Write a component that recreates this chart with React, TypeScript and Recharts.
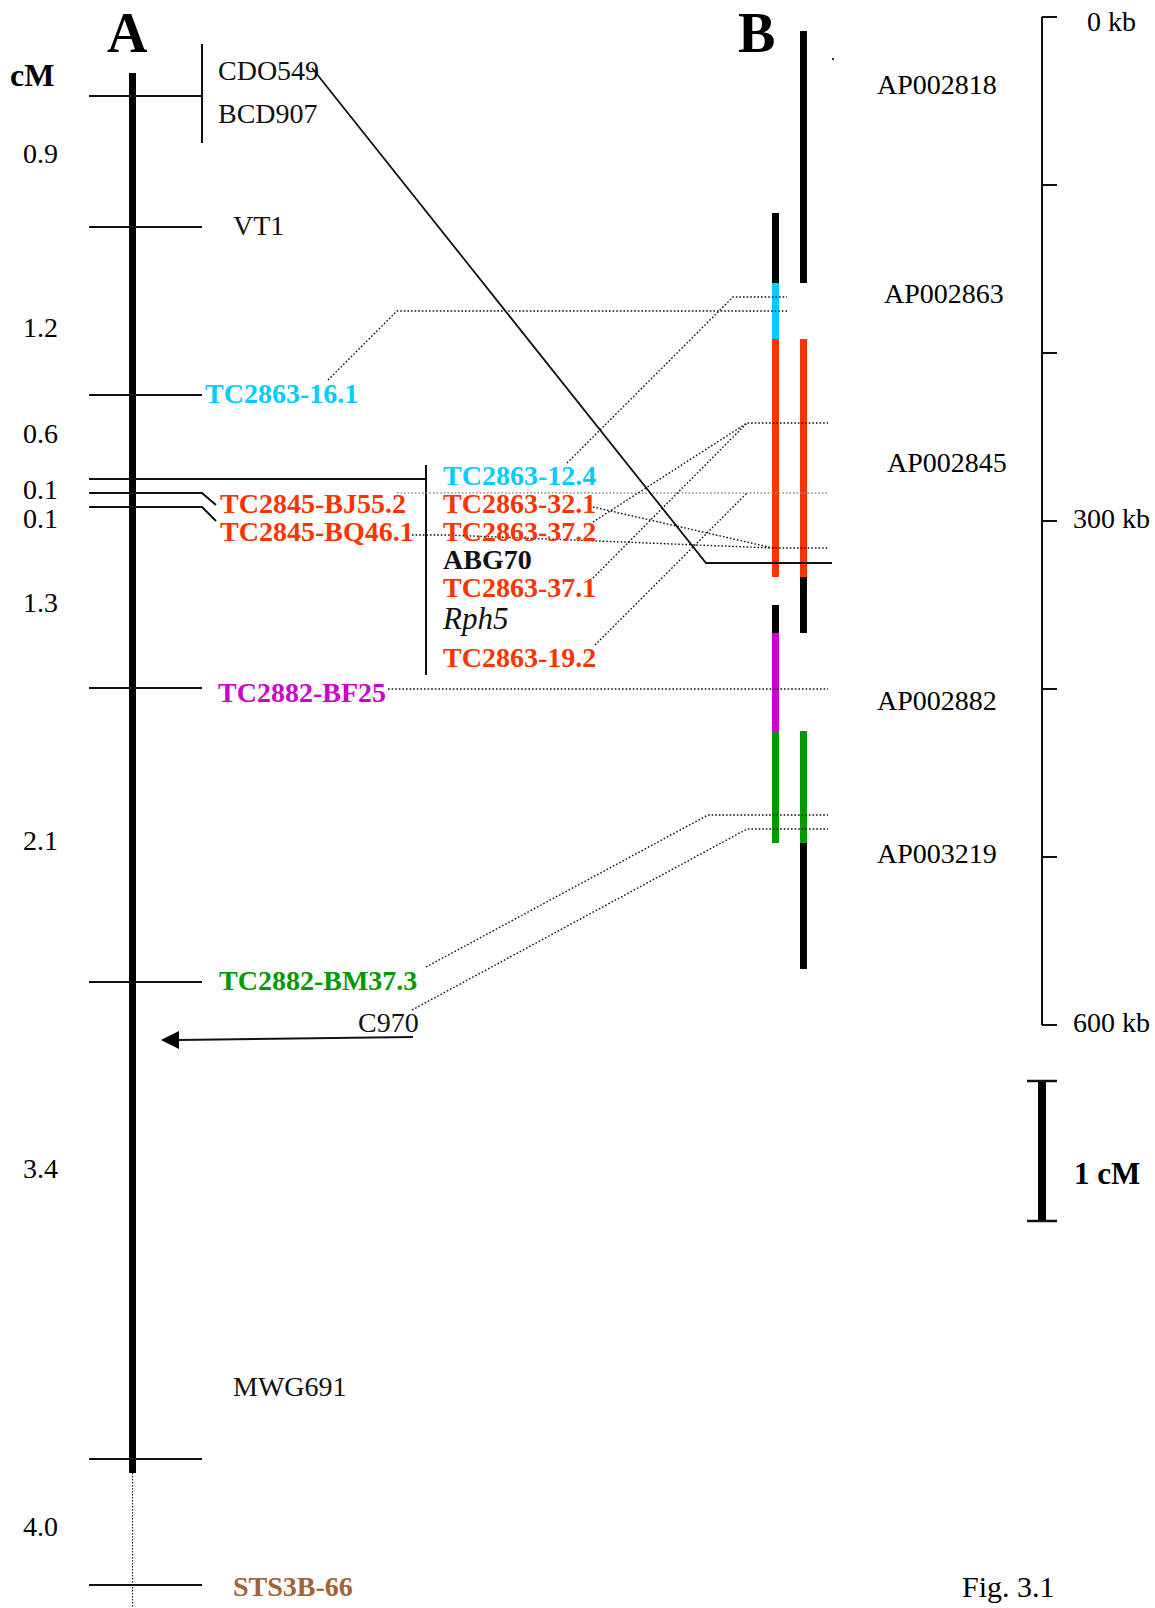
import React from "react";
import { ComposedChart, XAxis, YAxis, Line, Scatter } from "recharts";

const WIDTH = 1155;
const HEIGHT = 1608;
const SERIF = "'Liberation Serif', 'Times New Roman', Times, serif";
const CYAN = "#00CCFF";
const RED = "#FF3300";
const MAGENTA = "#CC00CC";
const GREEN = "#009900";
const BROWN = "#A0643A";
const INK = "#111111";
const GREY = "#8c8c8c";
const BASE_SIZE = 28;

type Pt = [number, number];

// ---------- Map A : genetic linkage map (positions in figure units) ----------
const chromosomeA = { x: 132.5, top: 73, bottom: 1473, end: 1608 };
const markerTicksA = [96, 227, 395, 688, 982, 1459, 1585];
const tickSpanA: Pt = [89, 202];

const cmIntervals = [
  { text: "0.9", y: 163 },
  { text: "1.2", y: 337 },
  { text: "0.6", y: 443 },
  { text: "0.1", y: 499 },
  { text: "0.1", y: 528 },
  { text: "1.3", y: 612 },
  { text: "2.1", y: 850 },
  { text: "3.4", y: 1178 },
  { text: "4.0", y: 1536 },
];

const markerLabelsA = [
  { text: "CDO549", x: 218, y: 80, color: INK, bold: false },
  { text: "BCD907", x: 218, y: 123, color: INK, bold: false },
  { text: "VT1", x: 233, y: 235, color: INK, bold: false },
  { text: "TC2863-16.1", x: 205, y: 403, color: CYAN, bold: true },
  { text: "TC2845-BJ55.2", x: 220, y: 513, color: RED, bold: true },
  { text: "TC2845-BQ46.1", x: 220, y: 541, color: RED, bold: true },
  { text: "TC2882-BF25", x: 218, y: 702, color: MAGENTA, bold: true },
  { text: "TC2882-BM37.3", x: 219, y: 990, color: GREEN, bold: true },
  { text: "C970", x: 358, y: 1032, color: INK, bold: false },
  { text: "MWG691", x: 233, y: 1396, color: INK, bold: false },
  { text: "STS3B-66", x: 233, y: 1596, color: BROWN, bold: true },
];

const clusterLabels = [
  { text: "TC2863-12.4", y: 485, color: CYAN, bold: true, italic: false, size: BASE_SIZE },
  { text: "TC2863-32.1", y: 513, color: RED, bold: true, italic: false, size: BASE_SIZE },
  { text: "TC2863-37.2", y: 541, color: RED, bold: true, italic: false, size: BASE_SIZE },
  { text: "ABG70", y: 569, color: INK, bold: true, italic: false, size: BASE_SIZE },
  { text: "TC2863-37.1", y: 597, color: RED, bold: true, italic: false, size: BASE_SIZE },
  { text: "Rph5", y: 629, color: INK, bold: false, italic: true, size: 31 },
  { text: "TC2863-19.2", y: 667, color: RED, bold: true, italic: false, size: BASE_SIZE },
];
const clusterLabelX = 443;

const solidLinesA: Pt[][] = [
  [[202, 44], [202, 143]],
  [[89, 479], [426, 479]],
  [[426, 465], [426, 675]],
  [[89, 493], [202, 493], [216, 505]],
  [[89, 507], [202, 507], [216, 521]],
];

// ---------- Map B : physical contig (BAC/PAC clones) ----------
const contigColumns = { left: 775.5, right: 803.5 };
const contigSegments = [
  { col: "left", from: 213, to: 283, color: "#000000" },
  { col: "left", from: 283, to: 339, color: CYAN },
  { col: "left", from: 339, to: 577, color: RED },
  { col: "left", from: 605, to: 633, color: "#000000" },
  { col: "left", from: 633, to: 731, color: MAGENTA },
  { col: "left", from: 731, to: 843, color: GREEN },
  { col: "right", from: 31, to: 283, color: "#000000" },
  { col: "right", from: 339, to: 577, color: RED },
  { col: "right", from: 577, to: 633, color: "#000000" },
  { col: "right", from: 731, to: 843, color: GREEN },
  { col: "right", from: 843, to: 969, color: "#000000" },
];

const cloneLabels = [
  { text: "AP002818", x: 877, y: 94 },
  { text: "AP002863", x: 884, y: 303 },
  { text: "AP002845", x: 887, y: 472 },
  { text: "AP002882", x: 877, y: 710 },
  { text: "AP003219", x: 877, y: 863 },
];

// kb scale
const kbAxisX = 1042;
const kbTickPositions = [17, 185, 353, 521, 689, 857, 1025];
const kbLabels = [
  { text: "0 kb", x: 1087, y: 31 },
  { text: "300 kb", x: 1073, y: 528 },
  { text: "600 kb", x: 1073, y: 1032 },
];

// 1 cM bar
const cmBar = { x: 1042, top: 1081, bottom: 1221, capL: 1027, capR: 1057 };

// ---------- Links between map A and map B ----------
const dottedLinks: { pts: Pt[]; color: string }[] = [
  { pts: [[328, 380], [397, 311], [787, 311]], color: INK },
  { pts: [[567, 463], [733, 297], [787, 297]], color: INK },
  { pts: [[397, 493], [828, 493]], color: GREY },
  { pts: [[412, 535], [447, 535], [773, 548], [828, 548]], color: INK },
  { pts: [[593, 507], [773, 548]], color: INK },
  { pts: [[593, 522], [747, 423], [828, 423]], color: INK },
  { pts: [[593, 578], [747, 423]], color: INK },
  { pts: [[595, 645], [747, 493]], color: INK },
  { pts: [[388, 689], [828, 689]], color: INK },
  { pts: [[426, 967], [708, 815], [828, 815]], color: INK },
  { pts: [[412, 1010], [747, 829], [828, 829]], color: INK },
];
const cdoLink: Pt[] = [[312, 68], [706, 563], [832, 563]];
const arrowC970: Pt[] = [[413, 1037], [178, 1040]];
const arrowTip = { x: 161, y: 1040 };

const titles = [
  { text: "A", x: 107, y: 52, size: 56, bold: true },
  { text: "B", x: 738, y: 52, size: 56, bold: true },
  { text: "cM", x: 10, y: 86, size: 32, bold: true },
  { text: "1 cM", x: 1074, y: 1184, size: 31, bold: true },
  { text: "Fig. 3.1", x: 962, y: 1597, size: 30, bold: false },
];

// ---------- build text table ----------
type TextItem = {
  x: number;
  y: number;
  text: string;
  color?: string;
  bold?: boolean;
  italic?: boolean;
  size?: number;
};

const textItems: TextItem[] = [
  ...cmIntervals.map((d) => ({ x: 23, y: d.y, text: d.text })),
  ...markerLabelsA.map((d) => ({ ...d })),
  ...clusterLabels.map((d) => ({ ...d, x: clusterLabelX })),
  ...cloneLabels.map((d) => ({ ...d })),
  ...kbLabels.map((d) => ({ ...d })),
  ...titles.map((d) => ({ ...d })),
];

const toData = (pts: Pt[]) => pts.map(([x, y]) => ({ x, y }));

const TextShape = (props: any) => {
  const { cx, cy, payload } = props;
  if (cx == null || cy == null) return null;
  return (
    <text
      x={cx}
      y={cy}
      fill={payload.color ?? "#000"}
      fontFamily={SERIF}
      fontSize={payload.size ?? BASE_SIZE}
      fontWeight={payload.bold ? "bold" : "normal"}
      fontStyle={payload.italic ? "italic" : "normal"}
      textAnchor="start"
    >
      {payload.text}
    </text>
  );
};

const ArrowHead = (props: any) => {
  const { cx, cy } = props;
  if (cx == null || cy == null) return null;
  return <polygon points={`${cx},${cy} ${cx + 18},${cy - 9} ${cx + 18},${cy + 9}`} fill="#000" />;
};

const DotShape = (props: any) => {
  const { cx, cy } = props;
  if (cx == null || cy == null) return null;
  return <rect x={cx - 1} y={cy - 1} width={2} height={2} fill="#333" />;
};

type Stroke = { pts: Pt[]; color: string; width: number; dash?: string };

const strokes: Stroke[] = [
  // chromosome A
  { pts: [[chromosomeA.x, chromosomeA.top], [chromosomeA.x, chromosomeA.bottom]], color: "#000", width: 7 },
  { pts: [[chromosomeA.x, chromosomeA.bottom], [chromosomeA.x, chromosomeA.end]], color: "#222", width: 1.2, dash: "1.5 1.5" },
  ...markerTicksA.map((y) => ({ pts: [[tickSpanA[0], y], [tickSpanA[1], y]] as Pt[], color: INK, width: 2 })),
  ...solidLinesA.map((pts) => ({ pts, color: INK, width: 2 })),
  // contig B
  ...contigSegments.map((s) => ({
    pts: [[contigColumns[s.col as "left" | "right"], s.from], [contigColumns[s.col as "left" | "right"], s.to]] as Pt[],
    color: s.color,
    width: 7,
  })),
  // links
  ...dottedLinks.map((l) => ({ pts: l.pts, color: l.color, width: 1.4, dash: "1.6 2" })),
  { pts: cdoLink, color: INK, width: 1.8 },
  { pts: arrowC970, color: INK, width: 2 },
  // kb scale
  { pts: [[kbAxisX, kbTickPositions[0]], [kbAxisX, kbTickPositions[kbTickPositions.length - 1]]], color: INK, width: 2 },
  ...kbTickPositions.map((y) => ({ pts: [[kbAxisX, y], [kbAxisX + 15, y]] as Pt[], color: INK, width: 2 })),
  // 1 cM bar
  { pts: [[cmBar.x, cmBar.top], [cmBar.x, cmBar.bottom]], color: "#000", width: 8 },
  { pts: [[cmBar.capL, cmBar.top], [cmBar.capR, cmBar.top]], color: INK, width: 2.5 },
  { pts: [[cmBar.capL, cmBar.bottom], [cmBar.capR, cmBar.bottom]], color: INK, width: 2.5 },
];

export default function App() {
  return (
    <div style={{ position: "absolute", left: 0, top: 0, width: WIDTH, height: HEIGHT, background: "#fff" }}>
      <ComposedChart width={WIDTH} height={HEIGHT} margin={{ top: 0, right: 0, bottom: 0, left: 0 }}>
        <XAxis type="number" dataKey="x" domain={[0, WIDTH]} hide allowDataOverflow />
        <YAxis type="number" dataKey="y" domain={[0, HEIGHT]} reversed hide allowDataOverflow />
        {strokes.map((s, i) => (
          <Line
            key={`s${i}`}
            data={toData(s.pts)}
            dataKey="y"
            type="linear"
            stroke={s.color}
            strokeWidth={s.width}
            strokeDasharray={s.dash}
            strokeLinecap="butt"
            strokeLinejoin="miter"
            dot={false}
            activeDot={false}
            isAnimationActive={false}
            legendType="none"
          />
        ))}
        <Scatter data={textItems} shape={TextShape} isAnimationActive={false} legendType="none" />
        <Scatter data={[arrowTip]} shape={ArrowHead} isAnimationActive={false} legendType="none" />
        <Scatter data={[{ x: 833, y: 59 }]} shape={DotShape} isAnimationActive={false} legendType="none" />
      </ComposedChart>
    </div>
  );
}
